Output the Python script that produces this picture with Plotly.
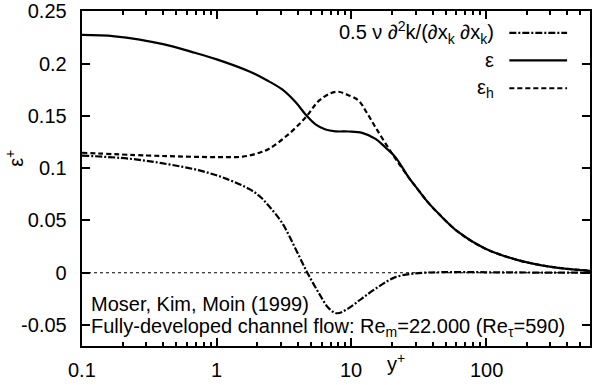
import math
import plotly.graph_objects as go

# ---- data ----
x_eps = [0.1, 0.175, 0.4, 0.7, 1.0, 1.75, 2.32, 3.08, 3.86, 4.58, 5.45, 6.43, 7.6,
         9.5, 12.0, 15.1, 17.8, 21.2, 26.5, 31.5, 37.3, 44.3, 62, 98, 172, 303, 590]
eps = [0.2273, 0.226, 0.2185, 0.210, 0.204, 0.1924, 0.1845, 0.175, 0.1629, 0.1511,
       0.1416, 0.1369, 0.1352, 0.1350, 0.1337, 0.128, 0.120, 0.1105, 0.0914, 0.0788,
       0.0668, 0.0566, 0.0390, 0.0232, 0.0121, 0.0057, 0.0019]

x_epsh = [0.1, 0.3, 0.6, 1.05, 1.56, 2.07, 2.45, 3.44, 4.58, 5.74, 7.0, 8.0, 9.0,
          11.3, 13.0, 15.1, 20, 26.5, 31.5, 37.3, 44.3, 62, 98, 172, 303, 590]
epsh = [0.1147, 0.1121, 0.111, 0.1105, 0.111, 0.1147, 0.1185, 0.1328, 0.1486,
        0.1645, 0.1715, 0.173, 0.171, 0.1645, 0.153, 0.139, 0.114, 0.0914, 0.0788,
        0.0668, 0.0566, 0.0390, 0.0232, 0.0121, 0.0057, 0.0019]

x_lap = [0.1, 0.226, 0.423, 0.745, 1.17, 1.745, 2.07, 2.45, 3.08, 3.86, 4.71, 5.74,
         6.8, 7.8, 9.5, 12.0, 15.9, 21, 29.8, 45, 70, 120, 250, 590]
lap = [0.112, 0.109, 0.104, 0.0978, 0.090, 0.080, 0.0735, 0.0635, 0.047, 0.0225,
       0.0, -0.0196, -0.034, -0.0387, -0.034, -0.0244, -0.0133, -0.0044, -0.0006,
       0.0005, 0.0006, 0.0004, 0.0002, 0.0]

y_tickvals = [-0.05, 0, 0.05, 0.1, 0.15, 0.2, 0.25]
y_ticktext = ["-0.05", "0", "0.05", "0.1", "0.15", "0.2", "0.25"]
x_tickvals = [0.1, 1, 10, 100]
x_ticktext = ["0.1", "1", "10", "100"]

legend_labels = ["0.5 ν ∂<sup>2</sup>k/(∂x<sub>k</sub> ∂x<sub>k</sub>)", "ε", "ε<sub>h</sub>"]
legend_dashes = ["7px,2px,2px,2px", "solid", "5px,3px"]

W, H = 592, 385
L, R, T, B = 82, 592, 10, 346
FONT = "Liberation Sans, Arial, sans-serif"
FS = 20
PAD = "\u00a0\u2009"


def px(xp):
    return (xp - L) / (R - L)


def py(yp):
    return (B - yp) / (B - T)


fig = go.Figure()
for xs, ys, dash in [(x_lap, lap, legend_dashes[0]), (x_eps, eps, legend_dashes[1]),
                     (x_epsh, epsh, legend_dashes[2])]:
    fig.add_trace(go.Scatter(x=xs, y=ys, mode="lines",
                             line=dict(color="black", width=2.2, dash=dash,
                                       shape="spline", smoothing=1.0),
                             showlegend=False, hoverinfo="skip"))

# dotted zero line
fig.add_shape(type="line", xref="paper", yref="y", x0=0, x1=1, y0=0, y1=0,
              line=dict(color="black", width=1, dash="dot"))

# legend (text right-aligned, line sample on the right)
rows_y = [32, 59.5, 87.5]
for lab, dash, yy in zip(legend_labels, legend_dashes, rows_y):
    fig.add_annotation(text=lab, xref="paper", yref="paper", x=px(498), y=py(yy),
                       xanchor="right", yanchor="middle", showarrow=False,
                       font=dict(family=FONT, size=FS, color="black"))
    fig.add_shape(type="line", xref="paper", yref="paper", x0=px(511), x1=px(569),
                  y0=py(yy), y1=py(yy), line=dict(color="black", width=2.2, dash=dash))

# notes
fig.add_annotation(text="Moser, Kim, Moin (1999)", xref="paper", yref="paper",
                   x=px(89), y=py(304), xanchor="left", yanchor="middle", showarrow=False,
                   font=dict(family=FONT, size=FS, color="black"))
fig.add_annotation(text="Fully-developed channel flow: Re<sub>m</sub>=22.000 (Re<sub>τ</sub>=590)",
                   xref="paper", yref="paper", x=px(89), y=py(327), xanchor="left",
                   yanchor="middle", showarrow=False,
                   font=dict(family=FONT, size=FS, color="black"))

# x tick labels placed at their axis values
for v, t in zip(x_tickvals, x_ticktext):
    fig.add_annotation(text=t, xref="x", yref="paper", x=math.log10(v), y=py(370),
                       xanchor="center", yanchor="middle", showarrow=False,
                       font=dict(family=FONT, size=FS, color="black"))

# axis titles
fig.add_annotation(text="ε<sup>+</sup>", xref="paper", yref="paper", x=px(14), y=py(158),
                   xanchor="center", yanchor="middle", textangle=-90, showarrow=False,
                   font=dict(family=FONT, size=FS, color="black"))
fig.add_annotation(text="y<sup>+</sup>", xref="paper", yref="paper", x=px(397), y=py(363),
                   xanchor="center", yanchor="middle", showarrow=False,
                   font=dict(family=FONT, size=FS, color="black"))

fig.update_xaxes(type="log", range=[-1, 2.7709],
                 tickvals=x_tickvals, ticktext=x_ticktext, showticklabels=False,
                 ticks="inside", ticklen=8, tickwidth=1.5, tickcolor="black",
                 showline=True, linecolor="black", linewidth=1.5, mirror="allticks",
                 showgrid=False, zeroline=False, ticklabeloverflow="allow",
                 minor=dict(dtick="D1", ticks="inside", ticklen=4, tickwidth=1.5,
                            tickcolor="black", showgrid=False),
                 tickfont=dict(family=FONT, size=FS, color="black"))
fig.update_yaxes(range=[-0.07, 0.2502],
                 tickvals=y_tickvals, ticktext=[t + PAD for t in y_ticktext],
                 ticks="inside", ticklen=8, tickwidth=1.5, tickcolor="black",
                 showline=True, linecolor="black", linewidth=1.5, mirror="allticks",
                 showgrid=False, zeroline=False, ticklabeloverflow="allow",
                 tickfont=dict(family=FONT, size=FS, color="black"))

fig.update_layout(width=W, height=H, margin=dict(l=L, r=W - R, t=T, b=H - B),
                  paper_bgcolor="white", plot_bgcolor="white", showlegend=False)

fig.write_html("out.html")
